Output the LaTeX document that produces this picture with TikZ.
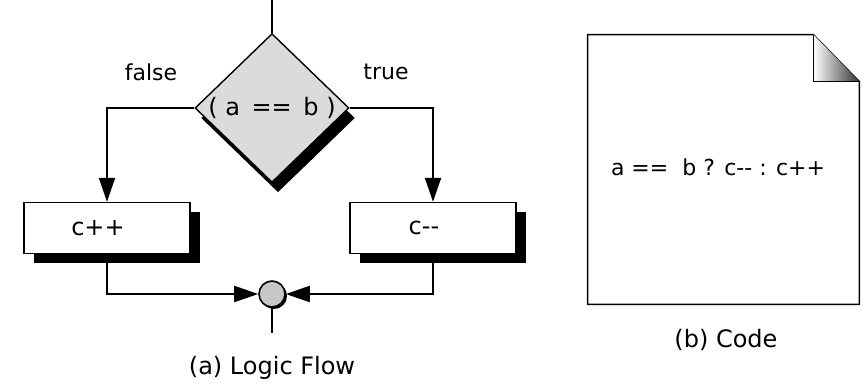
\documentclass[tikz,border=0pt]{standalone}
\usepackage{fontspec}
\setmainfont{DejaVu Sans}
\usetikzlibrary{arrows.meta,positioning,shapes.geometric,shadows,calc}

\begin{document}
\begin{tikzpicture}[
  x=0.5pt, y=-0.5pt,
  font=\fontsize{12}{14}\selectfont,
  cond/.style={diamond, draw=black, line width=0.7pt, fill=black!14, inner sep=0pt,
              minimum width=77pt, minimum height=72pt,
              drop shadow={shadow xshift=3pt, shadow yshift=-5pt, fill=black, opacity=1}},
  act/.style={rectangle, draw=black, line width=0.7pt, fill=white,
              minimum width=83pt, minimum height=25.5pt,
              execute at end node={\hspace{9pt}},
              drop shadow={shadow xshift=4.75pt, shadow yshift=-4.75pt, fill=black, opacity=1}},
  merge/.style={circle, draw=black, line width=0.8pt, fill=black!22, inner sep=0pt,
              minimum size=13pt,
              drop shadow={shadow xshift=1pt, shadow yshift=-1pt, fill=black, opacity=1}},
  lbl/.style={font=\fontsize{11}{13}\selectfont},
  arr/.style={-{Triangle[length=12pt,width=8pt]}, line width=1pt},
  wire/.style={line width=1pt}
]
\useasboundingbox (0,0) rectangle (864,387);
% logic flow
\node[cond] (cond) at (272,108) {( a\, ==\, b )};
\node[act] (inc) at (107,228) {c++};
\node[act] (dec) at (433,228) {c-{}-};
\node[merge] (join) at (272,294) {};
\node[lbl] (lfalse) at (151,72) {false};
\node[lbl] (ltrue) at (386,72) {true};
\node (capa) at (272,368) {(a) Logic Flow};
\coordinate (in) at (272,0);
\coordinate (out) at (272,333);
\draw[wire] (in) -- (cond.north);
\draw[arr] (cond.west) -| (inc.north);
\draw[arr] (cond.east) -| (dec.north);
\draw[arr] (inc.south) |- (join.west);
\draw[arr] (dec.south) |- (join.east);
\draw[wire] (join.south) -- (out);
% code page
\node[minimum width=135.5pt, minimum height=134.5pt, inner sep=0pt] (page) at (723.5,169.5) {};
\draw[line width=0.7pt] (page.north west) -- ($(page.north east)+(-46,0)$)
  -- ($(page.north east)+(0,47)$) -- (page.south east) -- (page.south west) -- cycle;
\shade[left color=white, right color=black!80] ($(page.north east)+(-46,0)$)
  -- ($(page.north east)+(-46,47)$) -- ($(page.north east)+(0,47)$) -- cycle;
\draw[line width=0.7pt] ($(page.north east)+(-46,0)$) -- ($(page.north east)+(-46,47)$)
  -- ($(page.north east)+(0,47)$);
\node[lbl] (code) at (718,167) {a ==\ \ b ? c-{}- : c++};
\node (capb) at (726,340) {(b) Code};
\end{tikzpicture}
\end{document}
